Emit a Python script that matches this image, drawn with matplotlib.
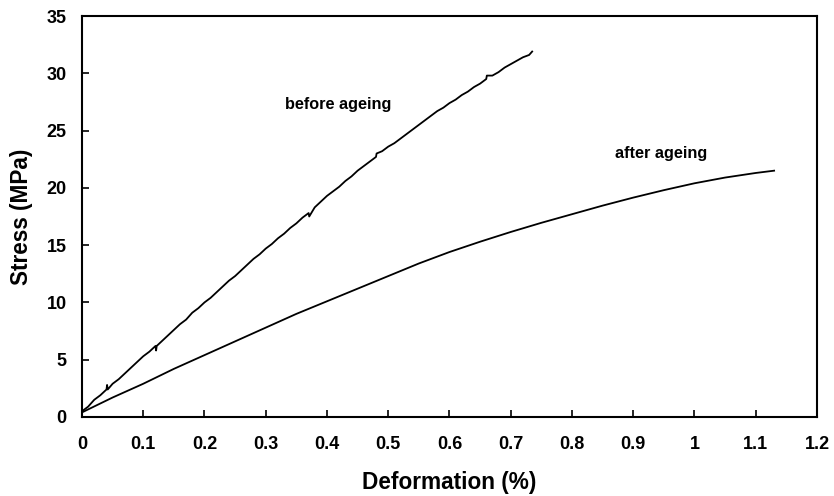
import matplotlib.pyplot as plt

plt.rcParams['font.family'] = ['Liberation Sans', 'DejaVu Sans']

# before ageing (noisy measured curve)
before_x = [0.0, 0.01, 0.02, 0.03, 0.04, 0.041, 0.042, 0.05, 0.06, 0.07, 0.08, 0.09,
            0.1, 0.11, 0.12, 0.121, 0.122, 0.13, 0.14, 0.15, 0.16, 0.17, 0.18, 0.19,
            0.2, 0.21, 0.22, 0.23, 0.24, 0.25, 0.26, 0.27, 0.28, 0.29,
            0.3, 0.31, 0.32, 0.33, 0.34, 0.35, 0.36, 0.37, 0.371, 0.38, 0.39,
            0.4, 0.41, 0.42, 0.43, 0.44, 0.45, 0.46, 0.47, 0.48, 0.481, 0.49,
            0.5, 0.51, 0.52, 0.53, 0.54, 0.55, 0.56, 0.57, 0.58, 0.59,
            0.6, 0.61, 0.62, 0.63, 0.64, 0.65, 0.66, 0.661, 0.67, 0.68, 0.69,
            0.7, 0.71, 0.72, 0.73, 0.735]
before_y = [0.5, 0.9, 1.5, 1.9, 2.4, 2.8, 2.4, 2.9, 3.3, 3.8, 4.3, 4.8,
            5.3, 5.7, 6.2, 5.8, 6.2, 6.6, 7.1, 7.6, 8.1, 8.5, 9.1, 9.5,
            10.0, 10.4, 10.9, 11.4, 11.9, 12.3, 12.8, 13.3, 13.8, 14.2,
            14.7, 15.1, 15.6, 16.0, 16.5, 16.9, 17.4, 17.8, 17.5, 18.3, 18.8,
            19.3, 19.7, 20.1, 20.6, 21.0, 21.5, 21.9, 22.3, 22.7, 23.0, 23.2,
            23.6, 23.9, 24.3, 24.7, 25.1, 25.5, 25.9, 26.3, 26.7, 27.0,
            27.4, 27.7, 28.1, 28.4, 28.8, 29.1, 29.5, 29.8, 29.8, 30.1, 30.5,
            30.8, 31.1, 31.4, 31.6, 31.9]

# after ageing
after_x = [0.0, 0.05, 0.1, 0.15, 0.2, 0.25, 0.3, 0.35, 0.4, 0.45, 0.5, 0.55,
           0.6, 0.65, 0.7, 0.75, 0.8, 0.85, 0.9, 0.95, 1.0, 1.05, 1.1, 1.13]
after_y = [0.4, 1.7, 2.9, 4.2, 5.4, 6.6, 7.8, 9.0, 10.1, 11.2, 12.3, 13.4,
           14.4, 15.3, 16.15, 16.95, 17.7, 18.45, 19.15, 19.8, 20.4, 20.9, 21.3, 21.5]

x_ticks = [0, 0.1, 0.2, 0.3, 0.4, 0.5, 0.6, 0.7, 0.8, 0.9, 1, 1.1, 1.2]
x_labels = ['0', '0.1', '0.2', '0.3', '0.4', '0.5', '0.6', '0.7', '0.8', '0.9', '1', '1.1', '1.2']
y_ticks = [0, 5, 10, 15, 20, 25, 30, 35]

fig = plt.figure(figsize=(8.34, 4.96), dpi=100)
ax = fig.add_axes([0.0983, 0.1593, 0.8813, 0.8084])

ax.plot(before_x, before_y, color='black', linewidth=1.3)
ax.plot(after_x, after_y, color='black', linewidth=1.3)

ax.text(0.331, 27.3, 'before ageing', fontsize=11.7, fontweight='bold', va='center', ha='left')
ax.text(0.870, 23.0, 'after ageing', fontsize=11.7, fontweight='bold', va='center', ha='left')

ax.set_xlim(0, 1.2)
ax.set_ylim(0, 35)
ax.set_xticks(x_ticks)
ax.set_xticklabels(x_labels)
ax.set_yticks(y_ticks)

for s in ax.spines.values():
    s.set_linewidth(1.5)

ax.tick_params(axis='both', direction='in', length=5, width=1.2, labelsize=13)
ax.tick_params(axis='x', pad=14)
ax.tick_params(axis='y', pad=11)
for lab in ax.get_xticklabels() + ax.get_yticklabels():
    lab.set_fontweight('bold')

ax.set_xlabel('Deformation (%)', fontsize=16.3, fontweight='bold', labelpad=13)
ax.set_ylabel('Stress (MPa)', fontsize=16.3, fontweight='bold', labelpad=10)

fig.savefig('out.png', dpi=100)
